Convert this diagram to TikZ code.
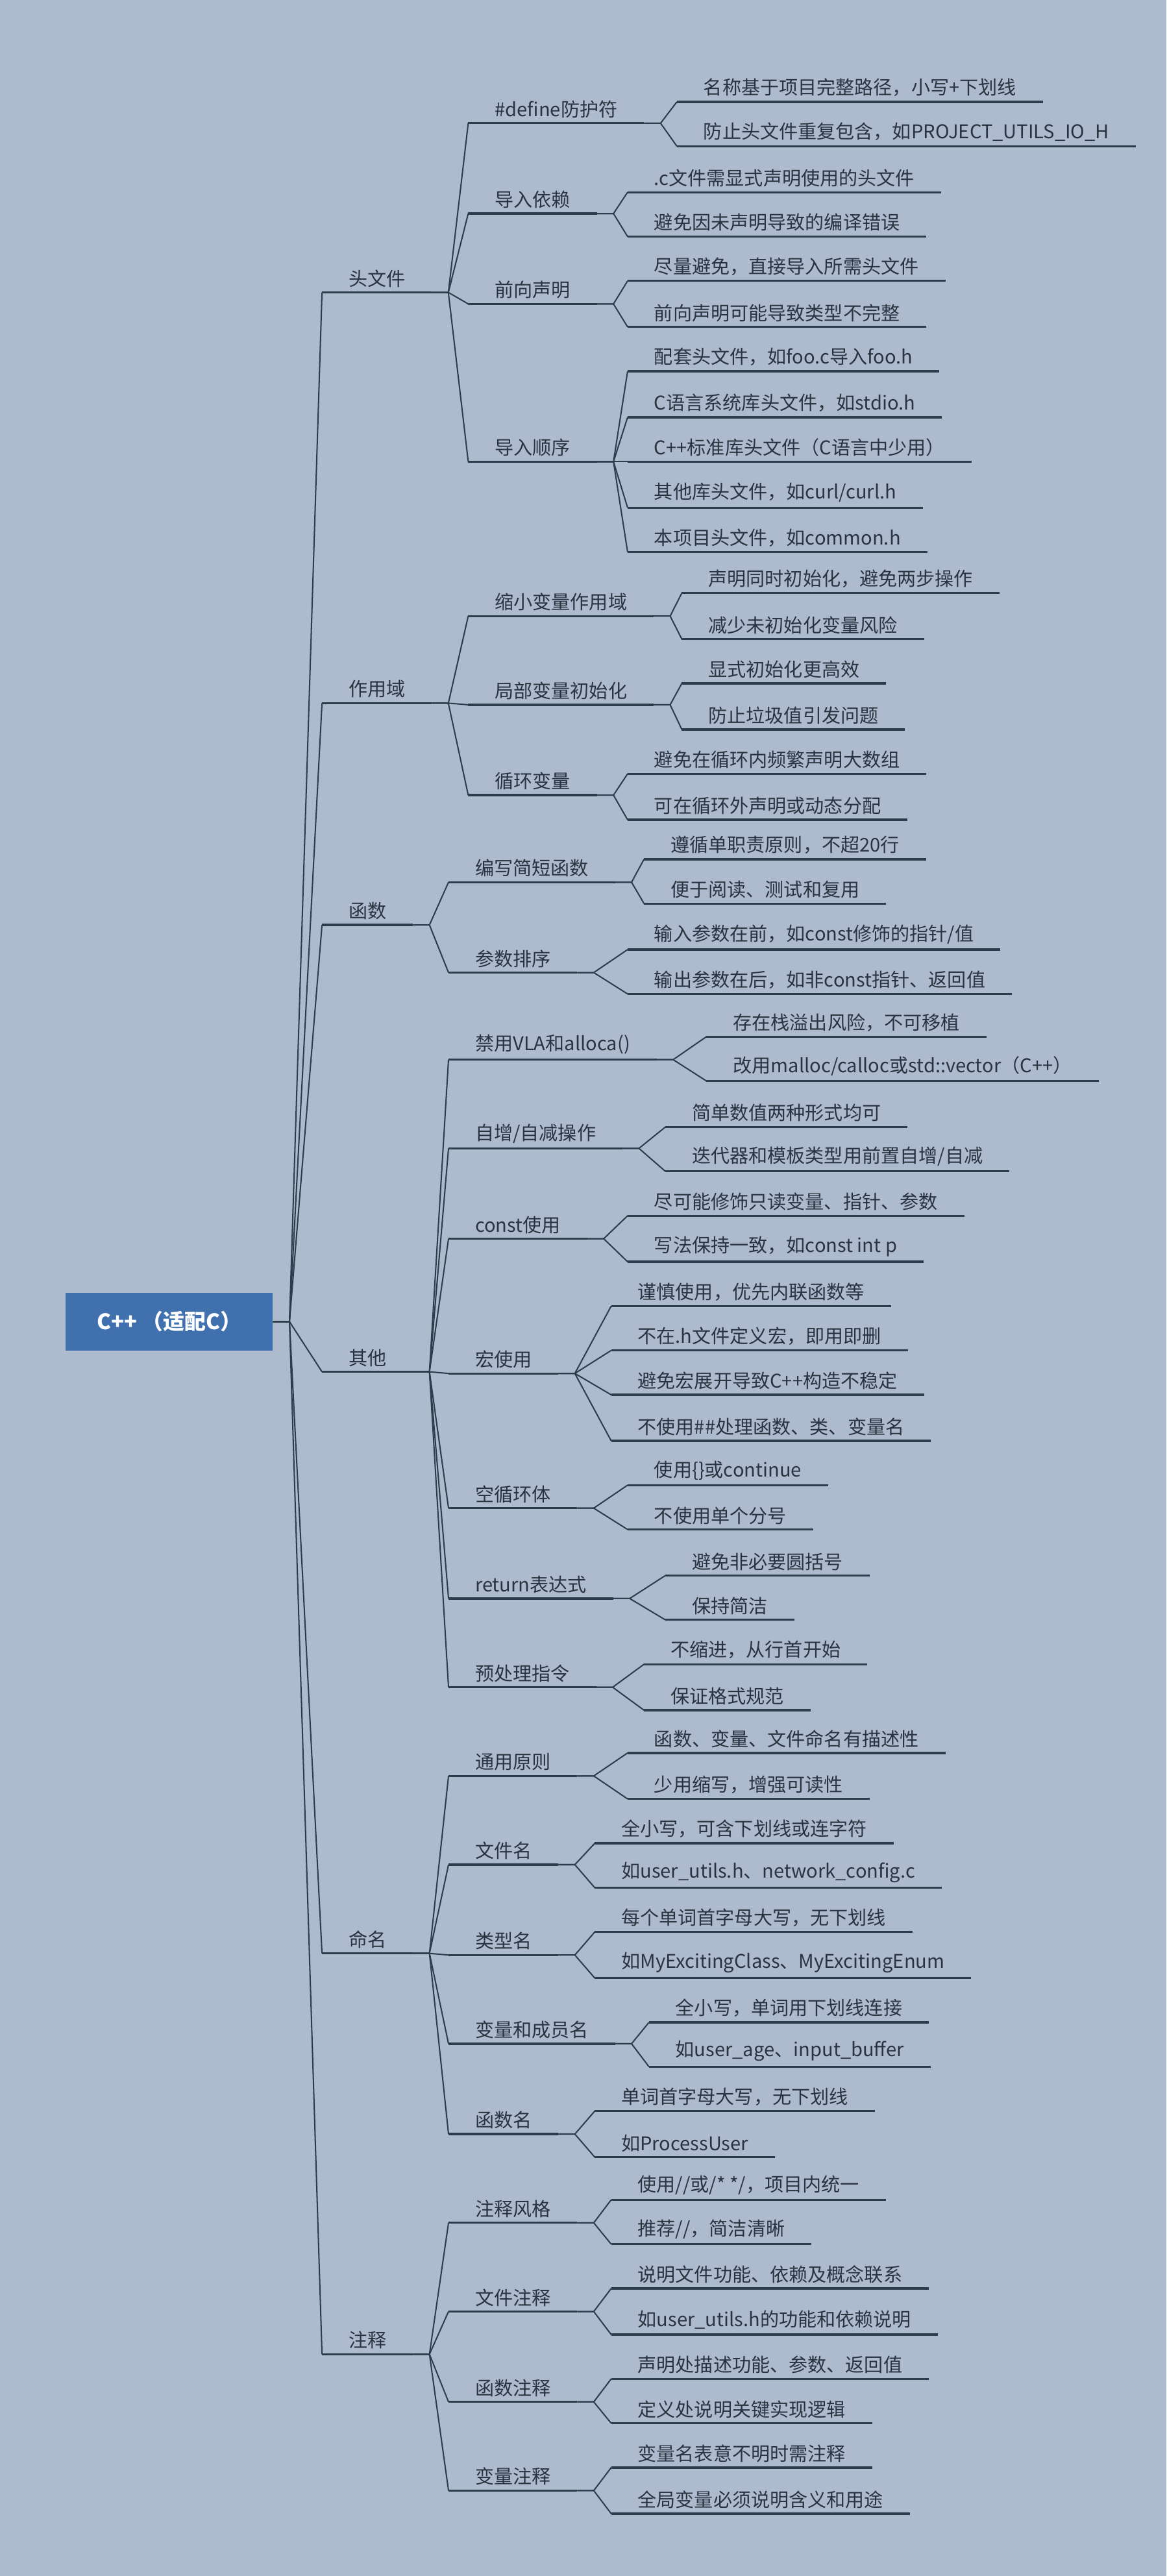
\documentclass[tikz,border=0pt]{standalone}
\usepackage{fontspec}
\setmainfont{Noto Sans CJK SC}
\usetikzlibrary{calc}
\definecolor{bg}{HTML}{AEBBCE}
\definecolor{ln}{HTML}{2E3B4A}
\definecolor{rootc}{HTML}{4070AE}
\definecolor{tx}{HTML}{2A3340}
\tikzset{
  lbl/.style={anchor=south west,inner xsep=16pt,inner ysep=3pt,text=tx,font=\fontsize{11.5}{13}\selectfont},
  ul/.style={draw=ln,line width=1.3pt},
  conn/.style={draw=ln,line width=0.8pt,line join=round}
}
\newcommand\nd[4]{\node[lbl] (#1) at (#2,#3) {#4}; \draw[ul] (#1.south west)--(#1.south east);}
\newcommand\cn[2]{\draw[conn] (#1.south east) -- ++(10,0) -- (#2.south west);}
\begin{document}
\begin{tikzpicture}[x=1pt,y=-1pt]
\fill[bg] (0,0) rectangle (710,1568);
\useasboundingbox (0,0) rectangle (710,1568);
\node[fill=rootc,text=white,minimum width=126pt,minimum height=35pt,inner sep=0pt,font=\fontsize{13}{15}\selectfont\bfseries] (root) at (103,804.5) {C++ （适配C）};
% level 1
\nd{a}{196}{178}{头文件}
\nd{b}{196}{428}{作用域}
\nd{c}{196}{563}{函数}
\nd{d}{196}{835}{其他}
\nd{e}{196}{1189}{命名}
\nd{f}{196}{1433}{注释}
\foreach \n in {a,b,c,d,e,f}{\draw[conn] (root.east) -- ++(10,0) -- (\n.south west);}
% 头文件
\nd{a1}{285}{75}{\#define防护符}
\nd{a2}{285}{130}{导入依赖}
\nd{a3}{285}{185}{前向声明}
\nd{a4}{285}{281}{导入顺序}
\foreach \n in {a1,a2,a3,a4}{\cn{a}{\n}}
\nd{a11}{412}{62}{名称基于项目完整路径，小写+下划线}
\nd{a12}{412}{89}{防止头文件重复包含，如PROJECT\_UTILS\_IO\_H}
\cn{a1}{a11}\cn{a1}{a12}
\nd{a21}{382}{117}{.c文件需显式声明使用的头文件}
\nd{a22}{382}{144}{避免因未声明导致的编译错误}
\cn{a2}{a21}\cn{a2}{a22}
\nd{a31}{382}{171}{尽量避免，直接导入所需头文件}
\nd{a32}{382}{199}{前向声明可能导致类型不完整}
\cn{a3}{a31}\cn{a3}{a32}
\nd{a41}{382}{226}{配套头文件，如foo.c导入foo.h}
\nd{a42}{382}{254}{C语言系统库头文件，如stdio.h}
\nd{a43}{382}{281}{C++标准库头文件（C语言中少用）}
\nd{a44}{382}{309}{其他库头文件，如curl/curl.h}
\nd{a45}{382}{336}{本项目头文件，如common.h}
\foreach \n in {a41,a42,a43,a44,a45}{\cn{a4}{\n}}
% 作用域
\nd{b1}{285}{375}{缩小变量作用域}
\nd{b2}{285}{429}{局部变量初始化}
\nd{b3}{285}{484}{循环变量}
\foreach \n in {b1,b2,b3}{\cn{b}{\n}}
\nd{b11}{415}{361}{声明同时初始化，避免两步操作}
\nd{b12}{415}{389}{减少未初始化变量风险}
\cn{b1}{b11}\cn{b1}{b12}
\nd{b21}{415}{416}{显式初始化更高效}
\nd{b22}{415}{444}{防止垃圾值引发问题}
\cn{b2}{b21}\cn{b2}{b22}
\nd{b31}{382}{471}{避免在循环内频繁声明大数组}
\nd{b32}{382}{499}{可在循环外声明或动态分配}
\cn{b3}{b31}\cn{b3}{b32}
% 函数
\nd{c1}{273}{537}{编写简短函数}
\nd{c2}{273}{592}{参数排序}
\cn{c}{c1}\cn{c}{c2}
\nd{c11}{392}{523}{遵循单职责原则，不超20行}
\nd{c12}{392}{550}{便于阅读、测试和复用}
\cn{c1}{c11}\cn{c1}{c12}
\nd{c21}{382}{578}{输入参数在前，如const修饰的指针/值}
\nd{c22}{382}{605}{输出参数在后，如非const指针、返回值}
\cn{c2}{c21}\cn{c2}{c22}
% 其他
\nd{d1}{273}{645}{禁用VLA和alloca()}
\nd{d2}{273}{699}{自增/自减操作}
\nd{d3}{273}{754}{const使用}
\nd{d4}{273}{836}{宏使用}
\nd{d5}{273}{918}{空循环体}
\nd{d6}{273}{973}{return表达式}
\nd{d7}{273}{1027}{预处理指令}
\foreach \n in {d1,d2,d3,d4,d5,d6,d7}{\cn{d}{\n}}
\nd{d11}{430}{631}{存在栈溢出风险，不可移植}
\nd{d12}{430}{658}{改用malloc/calloc或std::vector（C++）}
\cn{d1}{d11}\cn{d1}{d12}
\nd{d21}{405}{686}{简单数值两种形式均可}
\nd{d22}{405}{713}{迭代器和模板类型用前置自增/自减}
\cn{d2}{d21}\cn{d2}{d22}
\nd{d31}{382}{740}{尽可能修饰只读变量、指针、参数}
\nd{d32}{382}{768}{写法保持一致，如const int p}
\cn{d3}{d31}\cn{d3}{d32}
\nd{d41}{372}{795}{谨慎使用，优先内联函数等}
\nd{d42}{372}{822}{不在.h文件定义宏，即用即删}
\nd{d43}{372}{849}{避免宏展开导致C++构造不稳定}
\nd{d44}{372}{877}{不使用\#\#处理函数、类、变量名}
\foreach \n in {d41,d42,d43,d44}{\cn{d4}{\n}}
\nd{d51}{382}{904}{使用\{\}或continue}
\nd{d52}{382}{931}{不使用单个分号}
\cn{d5}{d51}\cn{d5}{d52}
\nd{d61}{405}{959}{避免非必要圆括号}
\nd{d62}{405}{986}{保持简洁}
\cn{d6}{d61}\cn{d6}{d62}
\nd{d71}{392}{1013}{不缩进，从行首开始}
\nd{d72}{392}{1041}{保证格式规范}
\cn{d7}{d71}\cn{d7}{d72}
% 命名
\nd{e1}{273}{1081}{通用原则}
\nd{e2}{273}{1135}{文件名}
\nd{e3}{273}{1190}{类型名}
\nd{e4}{273}{1244}{变量和成员名}
\nd{e5}{273}{1299}{函数名}
\foreach \n in {e1,e2,e3,e4,e5}{\cn{e}{\n}}
\nd{e11}{382}{1067}{函数、变量、文件命名有描述性}
\nd{e12}{382}{1095}{少用缩写，增强可读性}
\cn{e1}{e11}\cn{e1}{e12}
\nd{e21}{362}{1122}{全小写，可含下划线或连字符}
\nd{e22}{362}{1149}{如user\_utils.h、network\_config.c}
\cn{e2}{e21}\cn{e2}{e22}
\nd{e31}{362}{1176}{每个单词首字母大写，无下划线}
\nd{e32}{362}{1204}{如MyExcitingClass、MyExcitingEnum}
\cn{e3}{e31}\cn{e3}{e32}
\nd{e41}{395}{1231}{全小写，单词用下划线连接}
\nd{e42}{395}{1258}{如user\_age、input\_buffer}
\cn{e4}{e41}\cn{e4}{e42}
\nd{e51}{362}{1285}{单词首字母大写，无下划线}
\nd{e52}{362}{1313}{如ProcessUser}
\cn{e5}{e51}\cn{e5}{e52}
% 注释
\nd{f1}{273}{1353}{注释风格}
\nd{f2}{273}{1407}{文件注释}
\nd{f3}{273}{1462}{函数注释}
\nd{f4}{273}{1516}{变量注释}
\foreach \n in {f1,f2,f3,f4}{\cn{f}{\n}}
\nd{f11}{372}{1339}{使用//或/* */，项目内统一}
\nd{f12}{372}{1366}{推荐//，简洁清晰}
\cn{f1}{f11}\cn{f1}{f12}
\nd{f21}{372}{1393}{说明文件功能、依赖及概念联系}
\nd{f22}{372}{1421}{如user\_utils.h的功能和依赖说明}
\cn{f2}{f21}\cn{f2}{f22}
\nd{f31}{372}{1448}{声明处描述功能、参数、返回值}
\nd{f32}{372}{1475}{定义处说明关键实现逻辑}
\cn{f3}{f31}\cn{f3}{f32}
\nd{f41}{372}{1502}{变量名表意不明时需注释}
\nd{f42}{372}{1530}{全局变量必须说明含义和用途}
\cn{f4}{f41}\cn{f4}{f42}
\end{tikzpicture}
\end{document}
